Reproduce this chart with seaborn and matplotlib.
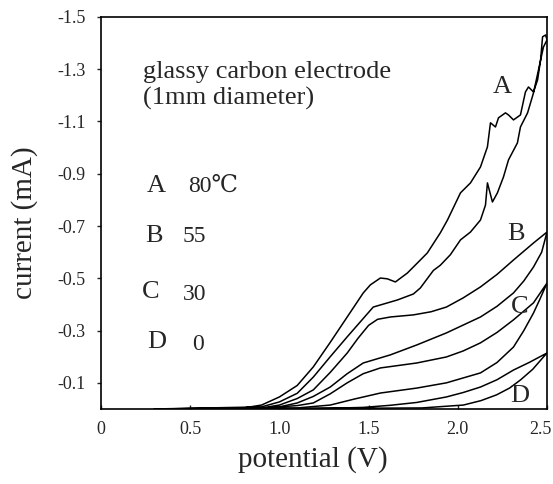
import numpy as np
import pandas as pd
import matplotlib
matplotlib.use('Agg')
import matplotlib.pyplot as plt
import matplotlib.transforms as mtransforms
import seaborn as sns

# Curve labels and temperatures
curve_names = ['A', 'B', 'C', 'D']
temperatures = ['80℃', '55', '30', '0']

# Forward (outer) and return (inner) branches of each voltammogram, potential in V, current in mA
a_fwd_x = [0.30, 0.80, 0.90, 1.00, 1.10, 1.19, 1.285, 1.38, 1.47, 1.51, 1.566, 1.605, 1.65, 1.717,
           1.79, 1.829, 1.902, 1.942, 2.015, 2.071, 2.127, 2.166, 2.183, 2.211, 2.228, 2.267, 2.284,
           2.312, 2.351, 2.379, 2.396, 2.424, 2.447, 2.464, 2.475, 2.492, 2.50]
a_fwd_i = [0.0, -0.004, -0.015, -0.046, -0.09, -0.161, -0.255, -0.352, -0.444, -0.475, -0.501, -0.498,
           -0.486, -0.520, -0.570, -0.597, -0.674, -0.723, -0.827, -0.865, -0.926, -1.003, -1.095,
           -1.079, -1.114, -1.133, -1.125, -1.106, -1.125, -1.213, -1.232, -1.213, -1.259, -1.336,
           -1.424, -1.431, -1.412]
a_rev_x = [2.50, 2.48, 2.452, 2.424, 2.391, 2.351, 2.334, 2.284, 2.256, 2.222, 2.194, 2.166, 2.155,
           2.127, 2.071, 2.015, 1.958, 1.902, 1.863, 1.79, 1.751, 1.661, 1.526, 1.38, 1.285, 1.19,
           1.10, 1.00, 0.90, 0.30]
a_rev_i = [-1.412, -1.385, -1.297, -1.209, -1.133, -1.079, -1.018, -0.953, -0.888, -0.827, -0.792,
           -0.865, -0.78, -0.723, -0.677, -0.647, -0.59, -0.55, -0.53, -0.463, -0.44, -0.417, -0.390,
           -0.276, -0.20, -0.122, -0.06, -0.027, -0.008, 0.0]

b_fwd_x = [0.30, 0.90, 1.00, 1.10, 1.19, 1.285, 1.38, 1.44, 1.50, 1.55, 1.622, 1.751, 1.85, 1.936,
           2.03, 2.127, 2.22, 2.312, 2.424, 2.50]
b_fwd_i = [0.0, -0.004, -0.015, -0.04, -0.073, -0.14, -0.214, -0.27, -0.32, -0.343, -0.352, -0.36,
           -0.372, -0.39, -0.425, -0.467, -0.515, -0.570, -0.635, -0.677]
b_rev_x = [2.50, 2.47, 2.424, 2.37, 2.312, 2.22, 2.127, 1.936, 1.77, 1.622, 1.47, 1.38, 1.285, 1.19,
           1.10, 1.00, 0.90, 0.30]
b_rev_i = [-0.677, -0.60, -0.543, -0.49, -0.444, -0.393, -0.352, -0.291, -0.245, -0.207, -0.176,
           -0.135, -0.084, -0.048, -0.023, -0.008, -0.003, 0.0]

c_fwd_x = [0.30, 0.90, 1.00, 1.10, 1.19, 1.285, 1.38, 1.47, 1.566, 1.77, 1.936, 2.03, 2.127, 2.22,
           2.312, 2.424, 2.50]
c_fwd_i = [0.0, -0.003, -0.008, -0.013, -0.023, -0.058, -0.100, -0.135, -0.157, -0.176, -0.199,
           -0.222, -0.253, -0.293, -0.341, -0.406, -0.482]
c_rev_x = [2.50, 2.46, 2.424, 2.37, 2.312, 2.22, 2.127, 1.936, 1.77, 1.566, 1.42, 1.285, 1.10, 0.30]
c_rev_i = [-0.482, -0.42, -0.367, -0.30, -0.237, -0.178, -0.138, -0.100, -0.08, -0.061, -0.038,
           -0.015, -0.004, 0.0]

d_fwd_x = [0.30, 1.10, 1.30, 1.47, 1.62, 1.77, 1.936, 2.03, 2.127, 2.22, 2.312, 2.40, 2.48, 2.50]
d_fwd_i = [0.0, -0.002, -0.003, -0.006, -0.014, -0.025, -0.046, -0.063, -0.084, -0.112, -0.149,
           -0.178, -0.207, -0.214]
d_rev_x = [2.50, 2.48, 2.42, 2.351, 2.29, 2.217, 2.13, 2.031, 1.80, 1.20, 0.30]
d_rev_i = [-0.214, -0.199, -0.152, -0.111, -0.080, -0.054, -0.032, -0.015, -0.004, -0.002, 0.0]

x_ticks = [0, 0.5, 1.0, 1.5, 2.0, 2.5]
x_tick_labels = ['0', '0.5', '1.0', '1.5', '2.0', '2.5']
y_ticks = [-1.5, -1.3, -1.1, -0.9, -0.7, -0.5, -0.3, -0.1]
y_tick_labels = ['-1.5', '-1.3', '-1.1', '-0.9', '-0.7', '-0.5', '-0.3', '-0.1']


def build_frame():
    branches = {
        'A': (a_fwd_x, a_fwd_i, a_rev_x, a_rev_i),
        'B': (b_fwd_x, b_fwd_i, b_rev_x, b_rev_i),
        'C': (c_fwd_x, c_fwd_i, c_rev_x, c_rev_i),
        'D': (d_fwd_x, d_fwd_i, d_rev_x, d_rev_i),
    }
    frames = []
    for name in curve_names:
        fx, fi, rx, ri = branches[name]
        frames.append(pd.DataFrame({
            'curve': name,
            'potential': list(fx) + list(rx),
            'current': list(fi) + list(ri),
        }))
    return pd.concat(frames, ignore_index=True)


df = build_frame()

sns.set_style('ticks')
plt.rcParams['font.family'] = ['Liberation Serif', 'DejaVu Serif', 'DejaVu Sans']

fig = plt.figure(figsize=(5.53, 4.84), dpi=100)
ax = fig.add_axes([0.1826, 0.155, 0.8066, 0.81])

sns.lineplot(data=df, x='potential', y='current', units='curve', estimator=None,
             sort=False, color='black', linewidth=1.1, ax=ax)

ax.set_xlim(0, 2.5)
ax.set_ylim(0, -1.5)
ax.set_xticks(x_ticks)
ax.set_xticklabels(x_tick_labels)
ax.set_yticks(y_ticks)
ax.set_yticklabels(y_tick_labels)
ax.tick_params(axis='x', direction='in', length=3, width=1, labelsize=13, pad=9)
ax.tick_params(axis='y', direction='out', length=3, width=1, labelsize=13, pad=8)
for side in ['top', 'right', 'bottom', 'left']:
    ax.spines[side].set_visible(True)
    ax.spines[side].set_linewidth(1.2)
    ax.spines[side].set_color('black')

# last x tick label sits against the right edge, as in the original
last = ax.get_xticklabels()[-1]
last.set_horizontalalignment('right')
last.set_transform(last.get_transform() + mtransforms.ScaledTranslation(0.05, 0, fig.dpi_scale_trans))

ax.set_xlabel('potential (V)', fontsize=21)
ax.set_ylabel('current (mA)', fontsize=21)
ax.xaxis.set_label_coords(0.475, -0.094)
ax.yaxis.set_label_coords(-0.141, 0.475)

# Electrode note
ax.text(0.236, -1.267, 'glassy carbon electrode', fontsize=19, va='baseline', ha='left')
ax.text(0.236, -1.165, '(1mm diameter)', fontsize=19, va='baseline', ha='left')

# Labels next to the curves
curve_label_pos = [(2.194, -1.209), (2.278, -0.647), (2.295, -0.367), (2.295, -0.027)]
for name, (lx, ly) in zip(curve_names, curve_label_pos):
    ax.text(lx, ly, name, fontsize=19, va='baseline', ha='left')

# Temperature key
key_letter_pos = [(0.258, -0.830), (0.247, -0.639), (0.230, -0.425), (0.258, -0.233)]
key_value_pos = [(0.488, -0.830), (0.460, -0.639), (0.460, -0.417), (0.511, -0.226)]
for name, temp, (kx, ky), (vx, vy) in zip(curve_names, temperatures, key_letter_pos, key_value_pos):
    ax.text(kx, ky, name, fontsize=19, va='baseline', ha='left')
    ax.text(vx, vy, temp, fontsize=17, va='baseline', ha='left')

plt.savefig('out.png', dpi=100)
